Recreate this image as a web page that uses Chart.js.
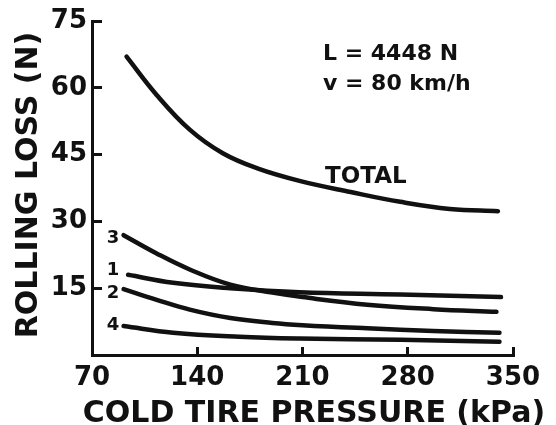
<!DOCTYPE html>
<html>
<head>
<meta charset="utf-8">
<script src="https://cdn.jsdelivr.net/npm/chart.js@4/dist/chart.umd.min.js"></script>
<style>
  html, body { margin: 0; padding: 0; background: #fff; }
  canvas { display: block; }
</style>
</head>
<body>
<canvas id="lossChart" width="556" height="425"></canvas>
<script>
// Rolling loss vs cold tire pressure (L = 4448 N, v = 80 km/h)

const xTicks = [70, 140, 210, 280, 350];
const yTicks = [15, 30, 45, 60, 75];

const pressureTotal = [93, 113, 135, 157, 180, 208, 242, 275, 308, 340];
const lossTotal     = [67.0, 58.4, 50.6, 45.3, 41.9, 39.1, 36.6, 34.4, 32.8, 32.3];

const pressure3 = [91, 113, 135, 162, 190, 210, 253, 297, 339];
const loss3     = [26.9, 22.8, 19.2, 15.8, 14.0, 13.0, 11.3, 10.3, 9.7];

const pressure1 = [94, 124, 162, 208, 275, 342];
const loss1     = [18.0, 16.2, 15.0, 14.1, 13.6, 13.0];

const pressure2 = [91, 113, 135, 162, 190, 210, 253, 297, 341];
const loss2     = [14.8, 12.4, 10.2, 8.3, 7.2, 6.7, 6.0, 5.4, 5.0];

const pressure4 = [91, 124, 168, 208, 275, 341];
const loss4     = [6.5, 5.0, 4.1, 3.7, 3.4, 3.0];

const FONT = '"DejaVu Sans", sans-serif';
const INK = '#111';

function toPoints(xs, ys) {
    return xs.map((x, i) => ({ x: x, y: ys[i] }));
}

function curve(label, xs, ys) {
    return {
        label: label,
        data: toPoints(xs, ys),
        borderColor: INK,
        borderWidth: 4.5,
        borderCapStyle: 'round',
        borderJoinStyle: 'round',
        pointRadius: 0,
        tension: 0.4,
        fill: false
    };
}

// titles and hand lettering on the plot
const lettering = {
    id: 'lettering',
    afterDraw(chart) {
        const ctx = chart.ctx;
        ctx.save();
        ctx.fillStyle = INK;
        ctx.textBaseline = 'alphabetic';

        ctx.font = 'bold 30px ' + FONT;
        ctx.textAlign = 'center';
        ctx.fillText('COLD TIRE PRESSURE (kPa)', 314, 422);

        ctx.save();
        ctx.translate(37, 185);
        ctx.rotate(-Math.PI / 2);
        ctx.fillText('ROLLING LOSS (N)', 0, 0);
        ctx.restore();

        ctx.textAlign = 'left';
        ctx.font = 'bold 22px ' + FONT;
        ctx.fillText('L = 4448 N', 323, 60);
        ctx.fillText('v = 80 km/h', 323, 90);

        ctx.font = 'bold 23px ' + FONT;
        ctx.fillText('TOTAL', 325, 183);

        ctx.font = 'bold 18px ' + FONT;
        ctx.textAlign = 'center';
        ctx.fillText('3', 113, 243);
        ctx.fillText('1', 113, 275);
        ctx.fillText('2', 113, 298);
        ctx.fillText('4', 113, 330);
        ctx.restore();
    }
};

new Chart(document.getElementById('lossChart'), {
    type: 'line',
    data: {
        datasets: [
            curve('TOTAL', pressureTotal, lossTotal),
            curve('3', pressure3, loss3),
            curve('1', pressure1, loss1),
            curve('2', pressure2, loss2),
            curve('4', pressure4, loss4)
        ]
    },
    options: {
        responsive: false,
        animation: false,
        layout: { padding: { top: 21, right: 43, bottom: 0, left: 0 } },
        plugins: {
            legend: { display: false },
            tooltip: { enabled: false }
        },
        scales: {
            x: {
                type: 'linear',
                min: 70,
                max: 350,
                afterBuildTicks: (scale) => { scale.ticks = xTicks.map(v => ({ value: v })); },
                afterFit: (scale) => {
                    scale.height = 70;
                    scale.paddingLeft = 0;
                    scale.paddingRight = 0;
                },
                border: { display: true, color: INK, width: 3 },
                grid: {
                    drawOnChartArea: false,
                    drawTicks: true,
                    tickLength: -8,
                    tickWidth: 3,
                    tickColor: INK
                },
                ticks: {
                    color: INK,
                    padding: 16,
                    maxRotation: 0,
                    font: { family: FONT, size: 26, weight: 'bold' }
                }
            },
            y: {
                type: 'linear',
                min: 0,
                max: 75,
                afterBuildTicks: (scale) => { scale.ticks = yTicks.map(v => ({ value: v })); },
                afterFit: (scale) => {
                    scale.width = 92;
                    scale.paddingTop = 0;
                    scale.paddingBottom = 0;
                },
                border: { display: true, color: INK, width: 3 },
                grid: {
                    drawOnChartArea: false,
                    drawTicks: true,
                    tickLength: -10,
                    tickWidth: 3,
                    tickColor: INK
                },
                ticks: {
                    color: INK,
                    padding: 15,
                    font: { family: FONT, size: 26, weight: 'bold' }
                }
            }
        }
    },
    plugins: [lettering]
});
</script>
</body>
</html>
